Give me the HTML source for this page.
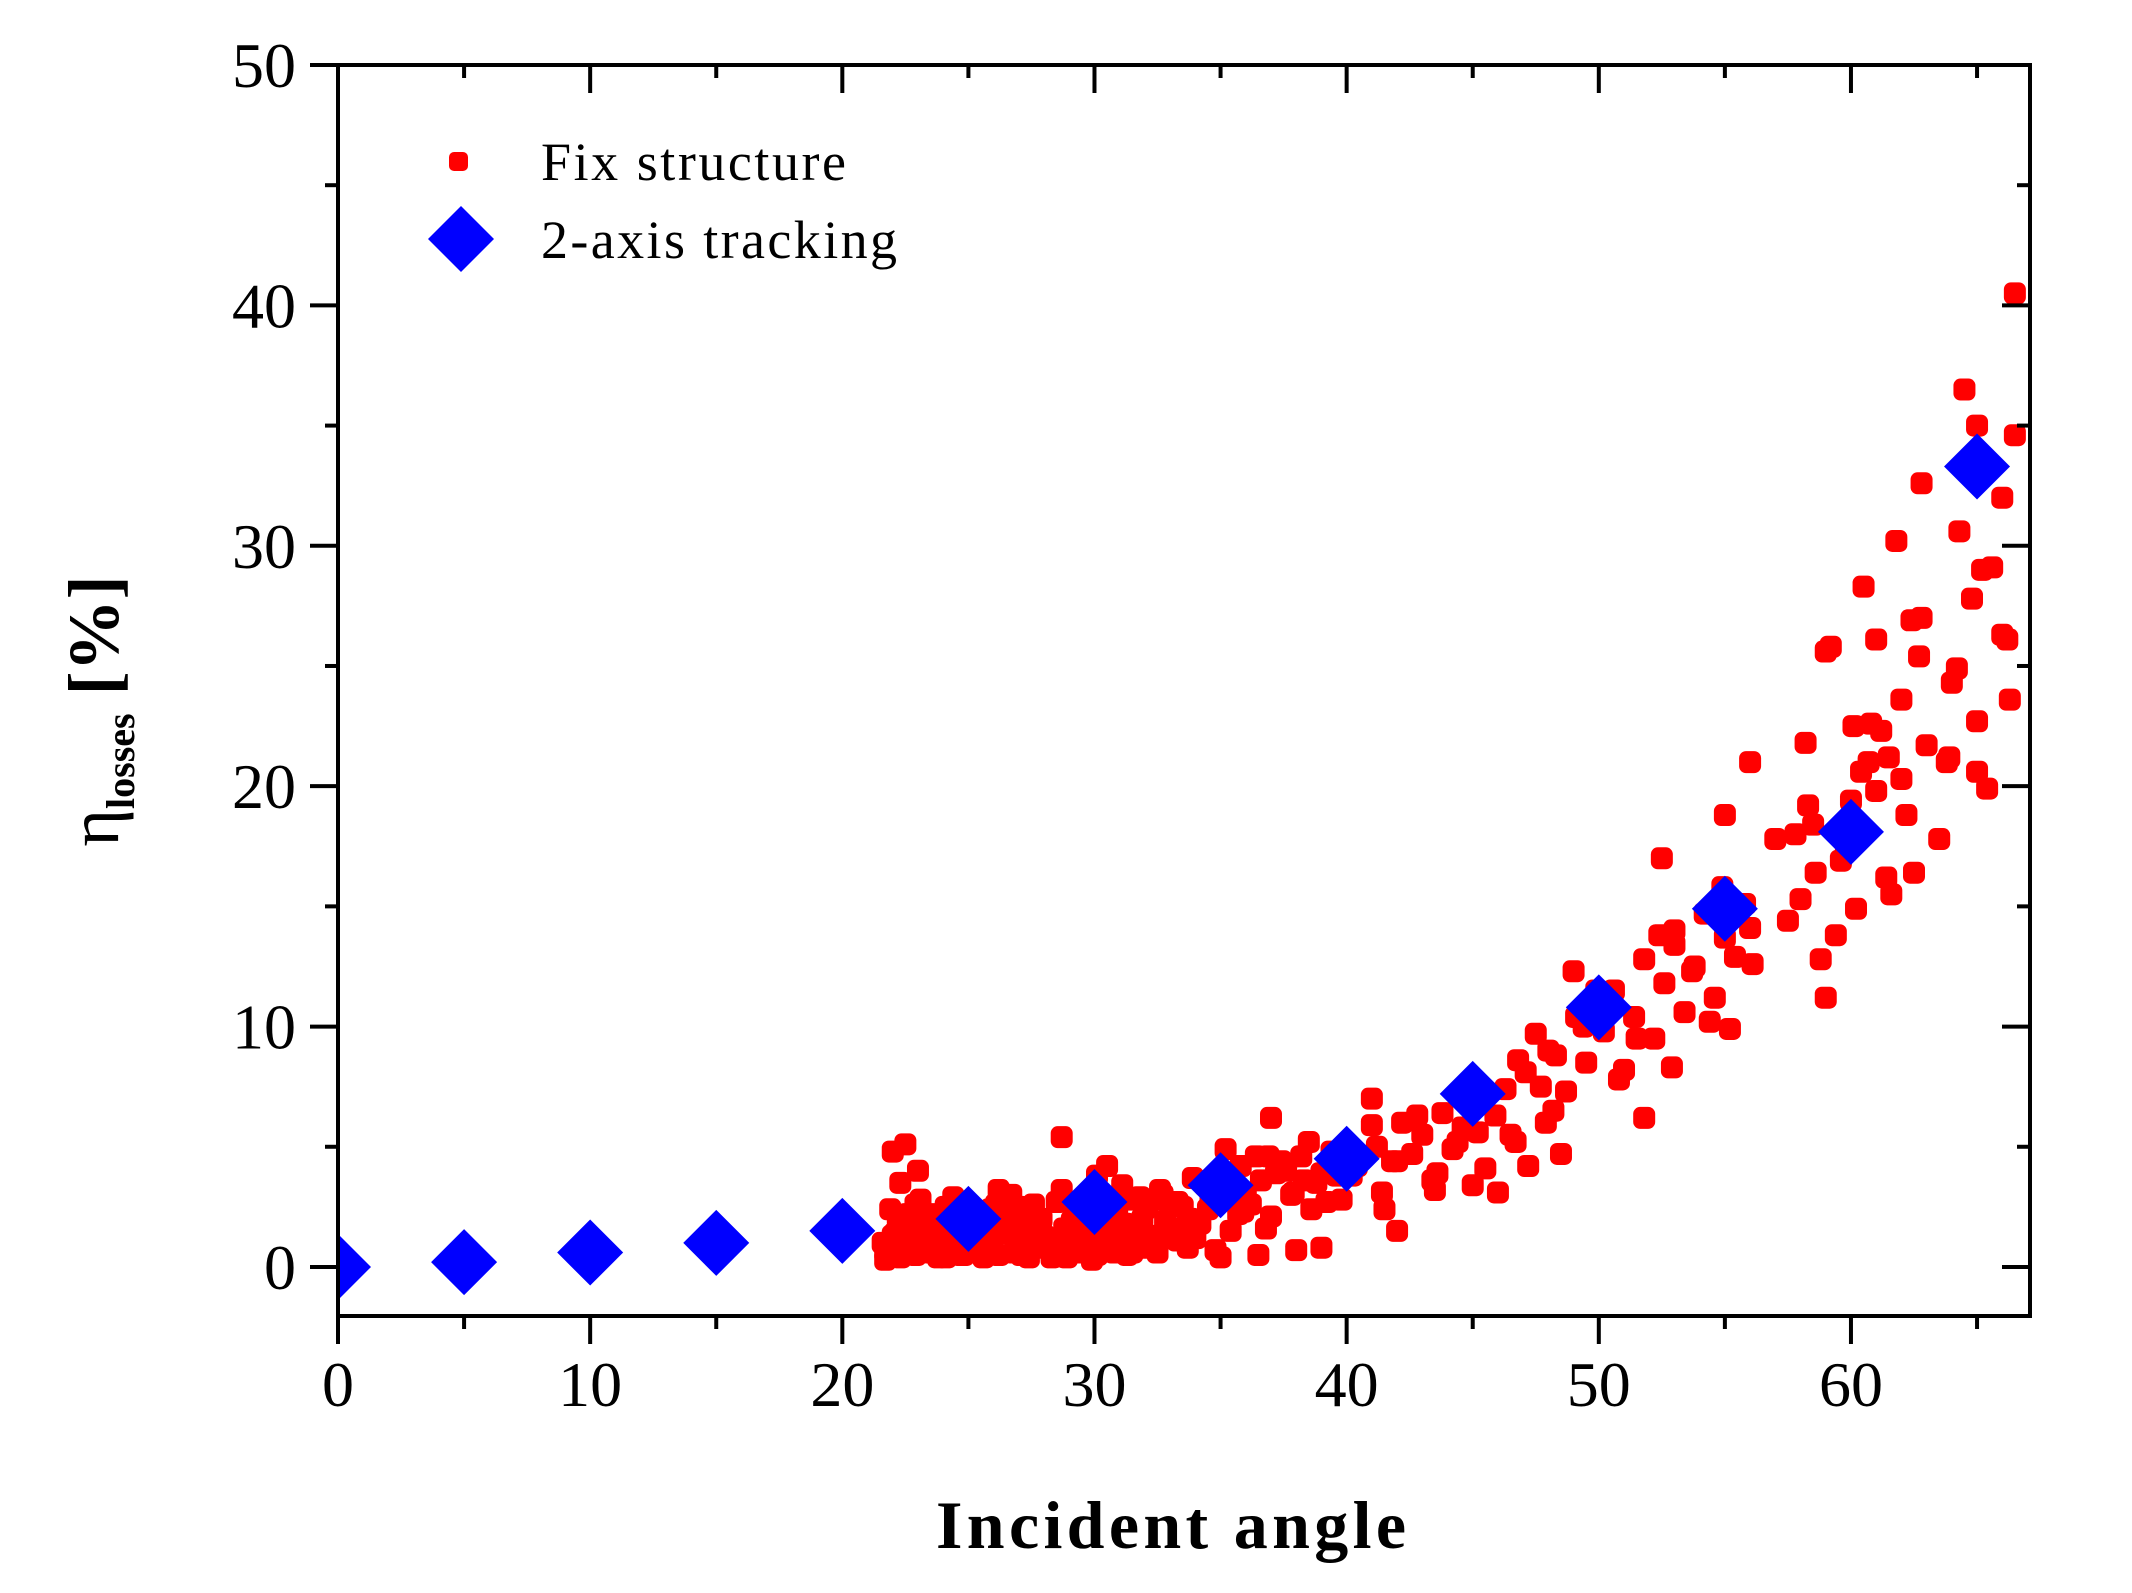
<!DOCTYPE html>
<html><head><meta charset="utf-8"><style>
html,body{margin:0;padding:0;background:#fff;}
svg{display:block;}
text{font-family:"Liberation Serif",serif;fill:#000;}
</style></head><body>
<svg id="chart" width="2132" height="1593" viewBox="0 0 2132 1593" xmlns="http://www.w3.org/2000/svg">
<g id="marks"></g>
<g id="axes"></g>
<g>
  <rect x="449" y="152" width="19" height="19" rx="5" fill="#ff0000"/>
  <text x="541" y="180" font-size="54" textLength="305" lengthAdjust="spacing">Fix  structure</text>
  <polygon points="461,206 494,239 461,272 428,239" fill="#0000ff"/>
  <text x="541" y="258" font-size="54" textLength="356" lengthAdjust="spacing">2-axis tracking</text>
</g>
<text x="936" y="1548" font-size="68" font-weight="bold" textLength="470" lengthAdjust="spacing">Incident angle</text>
<text transform="translate(118,711) rotate(-90)" text-anchor="middle" font-size="72" font-weight="bold"><tspan font-weight="normal">η</tspan><tspan font-size="40" dy="16">losses</tspan><tspan dy="-16"> [%]</tspan></text>
</svg>
<script>
const xTicks = [0,10,20,30,40,50,60];
const yTicks = [0,10,20,30,40,50];
const trackX = [0,5,10,15,20,25,30,35,40,45,50,55,60,65];
const trackY = [0,0.2,0.6,1.0,1.5,2.0,2.7,3.4,4.5,7.2,10.8,14.9,18.1,33.3];
const lowX = [
22,22.5,23,28.7,30.5,21.6,21.8,22.2,22.4,22.7,
23.1,23.4,23.8,24.1,24.5,24.8,25.2,25.6,26,26.4,
26.8,27.2,27.6,28,28.4,28.8,29.2,29.6,30,30.4,
30.8,31.2,31.6,32,32.4,32.8,21.7,22.1,22.6,23.2,
23.6,24,24.4,24.9,25.4,25.9,26.3,26.7,27.1,27.5,
27.9,28.3,28.7,29.1,29.5,29.9,30.3,30.7,31.1,31.5,
31.9,32.3,32.7,33.1,22.3,22.9,23.5,24.2,24.7,25.5,
26.2,27,27.8,28.5,29.3,30.1,31,31.8,32.6,33.3,
21.7,22,22.3,22.6,22.9,23.2,23.5,23.8,24.1,24.4,
24.7,25,25.3,25.6,25.9,26.2,26.5,26.8,27.1,27.4,
27.7,28,28.3,28.6,28.9,29.2,29.5,29.8,30.1,30.4,
30.7,31,31.3,31.6,31.9,32.2,32.5,32.8,33.1,33.4,
21.9,22.5,23.1,23.7,24.3,24.9,25.5,26.1,26.7,27.3,
27.9,28.5,29.1,29.7,30.3,30.9,31.5,32.1,32.7,33.3,
33.5,33.9,34.2,34.6,35,35.4,35.8,36.2,36.6,37,
37.4,37.8,38.2,38.6,39,39.4,39.8,33.7,34.4,35.2,
35.9,36.4,37.2,37.9,38.5,39.2,39.9,34,35,36.5,
38,39,37,36.8,35.5,34.8,33.8,34.5,36,37.6,
38.8,39.6,35.7,36.9,38.3
];
const lowY = [
4.8,5.1,4,5.4,4.2,1,0.5,2,1.2,0.6,
2.8,1.5,0.4,2.5,1,0.5,1.8,1.1,0.6,2.2,
1.4,0.8,2.6,1,0.5,1.6,2.3,0.7,1.2,2.8,
0.6,1.8,1.1,2.4,0.8,1.5,0.3,1.4,2.2,0.9,
1.8,0.5,2.9,1.3,0.7,2.4,1.6,3,0.5,1.9,
1.2,0.4,3.2,0.9,1.7,0.3,2.1,1.4,3.4,0.6,
2,1.2,2.8,1.6,3.5,2.6,1.3,2.1,0.7,1.1,
3.2,2.5,1.7,0.9,2.2,3.8,1.4,2.9,3.2,1.1,
0.6,1.3,0.4,1.0,0.5,1.6,0.6,1.2,0.4,0.9,
0.5,1.3,0.7,0.4,1.0,0.5,1.4,0.6,1.1,0.4,
0.8,1.3,0.5,0.9,0.4,1.2,0.6,1.0,0.5,1.5,
0.7,1.1,0.5,1.6,0.8,1.3,0.6,1.9,1.2,1.6,
2.4,2.0,1.9,2.2,1.7,2.3,2.1,2.6,1.8,2.4,
2.0,2.7,1.9,2.3,2.6,2.2,2.8,2.5,3.0,2.7,
2.5,3.7,1.8,2.8,3.3,1.5,4.2,2.6,3.6,2.1,
4.4,3,4.6,2.4,3.9,4.8,2.8,0.8,3.4,4.9,
2.3,4.6,3.9,3.1,5.2,2.7,4.2,1.2,0.4,0.5,
0.7,0.8,6.2,1.6,3.2,0.7,2.0,2.4,3.0,4.0,
3.5,3.8,2.2,4.6,3.6
];
const hiX = [
40.2,40.6,41,41.4,41.8,42.2,42.6,43,43.4,43.8,
44.2,44.6,45,40.4,41.2,42,42.8,43.6,44.4,45.2,
41,42,43.5,41.5,45.5,45.9,46.3,46.7,47.1,47.5,
47.9,48.3,48.7,49.1,49.5,49.9,46,46.5,47.2,48,
48.5,49,48.2,49.4,47.7,46.8,50.2,50.6,51,51.4,
51.8,52.2,52.6,53,53.4,53.8,54.2,54.6,55,55.4,
55.8,56,51.8,52.5,55,56,53,50.8,51.5,52.9,
54.4,55.2,52.4,53.7,54.9,56.1,57,57.5,58,58.3,
58.6,59,59,59.4,59.8,60.2,60.5,60.8,61,61.4,
61.8,62,62.2,58.2,58.8,59.6,60.4,61.2,61.6,62,
57.8,59.2,60,60.7,61.5,62.4,64.5,66.5,65,66.5,
66,65.2,66,64,65,63.5,62.5,65,66.3,62.8,
64.3,62.8,63,64.8,65.6,66.2,63.8,64.2,61,60.1,
58.5,62.7,63.9,65.4
];
const hiY = [
3.8,4.6,5.9,3.1,4.4,6,4.7,5.5,3.6,6.4,
4.9,5.8,3.4,4.2,5,4.4,6.3,3.9,5.2,5.6,
7,1.5,3.2,2.4,4.1,6.3,7.4,5.2,8.1,9.7,
6,8.8,7.3,10.4,8.5,11.5,3.1,5.5,4.2,9,
4.7,12.3,6.5,10,7.5,8.6,9.8,11.5,8.2,10.4,
12.8,9.5,11.8,13.4,10.6,12.5,14.7,11.2,13.7,12.9,
15.1,14.1,6.2,17,18.8,21,14,7.8,9.5,8.3,
10.2,9.9,13.8,12.3,15.8,12.6,17.8,14.4,15.3,19.2,
16.4,11.2,25.6,13.8,17.4,14.9,28.3,22.6,19.8,16.2,
30.2,20.3,18.8,21.8,12.8,16.9,20.6,22.3,15.5,23.6,
18,25.8,19.4,21,21.2,26.9,36.5,40.5,35,34.6,
32,29,26.3,24.3,22.7,17.8,16.4,20.6,23.6,32.6,
30.6,27,21.7,27.8,29.1,26.1,21,24.9,26.1,22.5,
18.4,25.4,21.2,19.9
];
const fixX = lowX.concat(hiX);
const fixY = lowY.concat(hiY);

const X0=338, X1=2030, Y0=65, Y1=1316, XMIN=0, XMAX=67.1, YMIN=-2.04, YMAX=50;
const sx = v => X0 + (v-XMIN)/(XMAX-XMIN)*(X1-X0);
const sy = v => Y1 - (v-YMIN)/(YMAX-YMIN)*(Y1-Y0);
const NS='http://www.w3.org/2000/svg';
const marks=document.getElementById('marks');
const axes=document.getElementById('axes');
function mk(tag,attrs,parent){const e=document.createElementNS(NS,tag);for(const k in attrs)e.setAttribute(k,attrs[k]);parent.appendChild(e);return e;}

const defs=mk('defs',{},document.getElementById('chart'));
const cp=mk('clipPath',{id:'clip'},defs);
mk('rect',{x:X0,y:Y0,width:X1-X0,height:Y1-Y0},cp);
marks.setAttribute('clip-path','url(#clip)');

const n=Math.min(fixX.length,fixY.length);
for(let i=0;i<n;i++){
  const r=mk('rect',{x:sx(fixX[i])-11,y:sy(fixY[i])-11,width:22,height:22,rx:7,fill:'#ff0000'},marks);
  
  
}
for(let i=0;i<trackX.length;i++){
  const cx=sx(trackX[i]), cy=sy(trackY[i]);
  const p=mk('polygon',{points:`${cx},${cy-33} ${cx+33},${cy} ${cx},${cy+33} ${cx-33},${cy}`,fill:'#0000ff'},marks);
  
  
}

const fr=mk('rect',{x:X0,y:Y0,width:X1-X0,height:Y1-Y0,fill:'none',stroke:'#000','stroke-width':4},axes);



for(let v=0; v<=65; v+=5){
  const major = v%10===0, x=sx(v), L=major?28:13;
  mk('line',{x1:x,y1:Y1,x2:x,y2:Y1+L,stroke:'#000','stroke-width':4},axes);
  if(v>0) mk('line',{x1:x,y1:Y0,x2:x,y2:Y0+L,stroke:'#000','stroke-width':4},axes);
}
for(const v of xTicks){
  const t=mk('text',{x:sx(v),y:1406,'font-size':64,'text-anchor':'middle'},axes);
  t.textContent=v;
  
  
}
for(let v=0; v<=50; v+=5){
  const major = v%10===0, y=sy(v), L=major?28:13;
  mk('line',{x1:X0-L,y1:y,x2:X0,y2:y,stroke:'#000','stroke-width':4},axes);
  if(v<50) mk('line',{x1:X1-L,y1:y,x2:X1,y2:y,stroke:'#000','stroke-width':4},axes);
}
for(const v of yTicks){
  const t=mk('text',{x:296,y:sy(v)+22,'font-size':64,'text-anchor':'end'},axes);
  t.textContent=v;
  
  
}
</script>
</body></html>
